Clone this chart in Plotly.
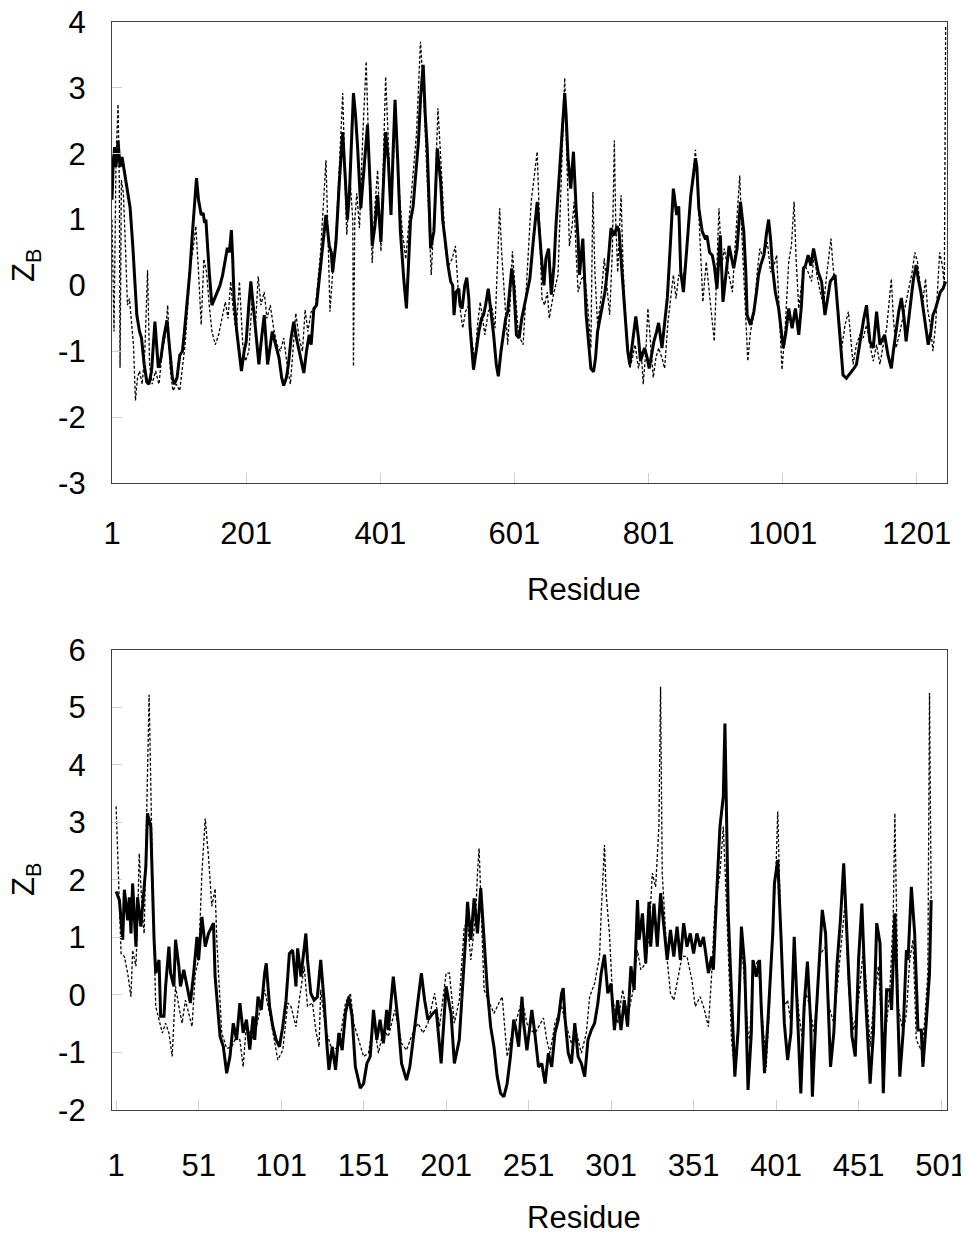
import plotly.graph_objects as go

# ---------------- Top panel (residues 1-1245) ----------------
top_solid_res = [1,3,5,7,10,13,16,20,24,28,32,35,38,42,45,49,53,56,60,65,68,70,74,78,83,87,91,94,98,102,106,109,113,117,121,124,127,130,134,137,139,141,143,146,150,154,158,162,166,170,173,176,179,181,183,187,191,194,198,201,205,208,213,217,220,224,228,233,236,240,245,250,254,257,261,264,268,272,276,280,284,287,291,295,298,
    302,306,310,315,320,325,328,330,335,340,345,349,352,355,357,361,364,367,372,377,382,386,389,393,397,402,406,409,413,417,420,423,427,431,436,440,443,446,450,454,458,461,465,468,471,474,476,481,484,486,491,494,498,502,506,509,511,514,518,520,523,527,530,533,535,540,544,548,552,555,558,562,566,570,574,577,581,585,588,591,594,597,600,604,608,
    612,616,620,624,629,635,641,645,648,652,656,660,663,670,676,678,681,685,689,693,696,698,700,703,708,712,715,719,722,725,729,732,736,740,745,750,754,757,760,763,767,770,773,777,782,786,789,795,799,802,806,809,813,816,821,825,829,834,838,843,846,849,853,858,864,867,871,873,876,881,886,888,892,896,899,903,908,912,
    917,921,928,933,938,940,943,946,948,953,958,962,965,968,973,977,980,983,986,990,995,999,1002,1006,1010,1015,1020,1025,1029,1032,1035,1039,1043,1047,1050,1054,1059,1064,1068,1072,1079,1082,1086,1091,1096,1100,1104,1108,1111,1114,1118,1122,1126,1131,1136,1141,1146,1150,1153,1158,1163,1166,1170,1174,1178,1182,1185,1189,1193,1196,1200,1203,1207,1212,1216,1218,1222,1225,1229,1232,1236,1240,1244]
top_solid_zb = [1.3,1.9,2.1,1.8,2.2,1.8,1.95,1.7,1.4,1.18,0.6,0.0,-0.45,-0.7,-0.8,-1.2,-1.47,-1.5,-1.3,-0.55,-1.0,-1.25,-1.1,-0.8,-0.53,-1.0,-1.4,-1.5,-1.4,-1.06,-1.0,-0.7,-0.3,0.2,0.81,1.2,1.63,1.3,1.07,1.1,0.95,1.0,0.66,0.2,-0.3,-0.2,-0.1,0.0,0.16,0.4,0.57,0.5,0.84,0.4,-0.2,-0.7,-1.1,-1.3,-1.0,-0.86,-0.3,0.06,-0.45,-0.9,-1.2,-0.8,-0.45,-1.2,-1.0,-0.7,-0.9,-1.1,-1.4,-1.52,-1.4,-1.2,-0.8,-0.55,-0.8,-1.0,-1.2,-1.33,-1.0,-0.75,-0.9,
    -0.35,-0.3,0.1,0.56,1.07,0.6,0.5,0.2,0.66,1.58,2.33,1.6,1.0,1.4,1.83,2.92,2.6,2.13,1.17,1.83,2.44,1.5,0.6,0.9,1.37,0.66,1.5,2.33,1.9,1.07,2.0,2.82,1.9,0.82,0.1,-0.35,0.3,0.97,1.2,1.68,2.2,2.84,3.35,2.6,2.08,1.2,0.56,0.82,1.5,2.08,1.58,1.0,0.66,0.3,0.06,0.0,-0.45,-0.1,-0.05,-0.3,-0.35,0.0,0.12,-0.2,-0.65,-1.28,-1.0,-0.7,-0.5,-0.45,-0.3,-0.05,-0.4,-0.75,-1.2,-1.38,-1.0,-0.7,-0.5,-0.4,0.0,0.26,0.0,-0.75,-0.8,
    -0.5,-0.3,-0.1,0.1,0.66,1.27,0.46,0.0,0.41,0.56,-0.14,0.3,0.92,2.08,2.92,2.6,1.93,1.47,2.03,1.17,0.7,0.16,0.4,0.71,-0.45,-0.9,-1.26,-1.31,-1.1,-0.7,-0.5,-0.3,-0.1,0.26,0.87,0.76,0.9,0.82,0.4,-0.05,-0.7,-1.0,-1.2,-0.9,-0.47,-0.8,-1.15,-0.95,-1.1,-1.26,-1.0,-0.85,-0.7,-0.57,-0.95,-0.6,-0.19,0.71,1.47,1.07,1.2,0.21,-0.1,0.56,1.37,1.6,1.93,1.8,1.17,0.82,0.7,0.76,0.5,0.46,0.3,-0.05,0.76,-0.25,
    0.2,0.6,0.26,0.56,1.27,1.1,0.82,0.2,-0.45,-0.6,-0.4,-0.1,0.16,0.3,0.46,0.8,1.0,0.7,0.26,-0.1,-0.35,-0.7,-0.95,-0.7,-0.35,-0.65,-0.35,-0.75,-0.3,0.26,0.3,0.46,0.3,0.56,0.4,0.2,0.06,-0.45,-0.2,0.06,0.16,-0.2,-0.75,-1.36,-1.41,-1.36,-1.31,-1.25,-1.2,-1.0,-0.75,-0.5,-0.3,-0.85,-0.95,-0.4,-0.9,-0.8,-0.75,-1.06,-1.26,-1.0,-0.7,-0.4,-0.19,-0.5,-0.85,-0.5,-0.1,0.1,0.31,0.1,-0.1,-0.45,-0.7,-0.9,-0.7,-0.45,-0.35,-0.25,-0.1,-0.05,0.06]

top_dash_res = [1,4,7,10,12,13,15,18,21,24,27,30,33,36,39,42,46,50,54,57,61,66,71,76,80,84,88,92,97,102,106,110,114,118,122,126,130,134,138,142,146,150,155,160,165,170,174,178,182,186,191,196,200,205,210,215,219,223,228,232,237,242,247,252,257,262,267,271,275,280,285,289,293,298,304,
    312,320,323,326,330,335,340,345,348,351,356,360,361,363,366,370,375,380,384,389,393,397,402,406,409,413,417,421,424,428,434,439,444,449,455,461,466,471,477,482,487,493,498,503,508,513,518,524,528,533,537,542,546,550,553,557,562,567,572,579,582,585,588,591,595,598,603,607,
    614,618,622,626,635,638,642,646,650,653,658,666,670,676,679,683,687,690,693,696,701,706,711,715,718,721,725,730,735,739,743,747,750,752,755,760,763,767,773,777,781,786,790,793,797,800,804,808,812,816,821,825,830,835,838,842,846,852,858,864,871,875,877,882,887,891,894,899,903,906,910,914,
    920,926,932,937,940,943,946,949,953,958,963,967,972,978,983,988,992,996,1000,1005,1010,1014,1018,1021,1025,1029,1034,1039,1044,1048,1052,1057,1062,1067,1073,1076,1079,1084,1089,1094,1099,1103,1106,1111,1116,1121,1126,1131,1136,1141,1146,1151,1156,1163,1166,1170,1176,1183,1188,1194,1198,1202,1206,1210,1214,1217,1221,1225,1229,1233,1235,1239,1242,1244]
top_dash_zb = [1.0,-0.7,1.9,2.75,1.5,-1.25,1.6,1.4,0.6,-0.3,-0.2,-0.6,-0.9,-1.75,-1.4,-1.3,-1.5,-1.0,0.23,-1.2,-1.5,-1.3,-1.5,-1.0,-0.8,-0.3,-1.3,-1.6,-1.5,-1.6,-1.2,-0.9,-0.3,0.3,0.56,0.9,0.2,-0.6,0.4,0.2,-0.3,-0.7,-0.9,-0.75,-0.5,-0.25,-0.5,0.06,-0.4,-0.7,0.06,-0.9,-1.15,-1.0,-0.2,-0.6,0.14,-0.3,-0.1,-0.5,-0.3,-0.65,-0.9,-1.0,-0.8,-1.2,-1.5,-0.9,-0.42,-0.8,-1.0,-0.37,-0.7,-0.4,-0.35,
    0.5,1.9,0.8,-0.4,0.2,0.8,1.8,2.92,1.8,0.77,1.6,1.0,-1.23,1.0,1.4,0.87,2.3,3.4,2.0,0.34,1.2,1.75,0.52,2.0,3.17,2.2,1.07,2.0,2.64,1.6,0.8,0.4,1.0,1.58,2.3,3.7,2.84,1.6,0.16,1.2,2.69,1.58,0.56,0.3,0.4,0.6,-0.2,-0.65,-0.4,-0.3,-0.8,-1.15,-0.6,-0.25,-0.5,-0.75,-0.4,-0.3,-0.65,1.17,0.5,0.06,-0.5,-0.9,-0.2,0.52,-0.2,-0.75,
    -0.9,-0.2,0.6,1.27,2.03,1.0,-0.2,-0.3,-0.1,-0.5,-0.2,0.16,1.5,3.15,2.0,0.6,0.9,1.27,0.5,-0.1,0.1,0.16,-0.4,-0.95,1.42,0.2,-0.6,-0.2,0.41,0.0,-0.45,0.5,2.2,1.0,0.2,1.37,0.3,-0.6,-1.26,-1.1,-0.9,-1.26,-1.0,-1.5,-1.0,-0.35,-0.9,-1.4,-1.1,-0.95,-1.1,-1.26,-0.55,-0.1,0.16,-0.2,0.16,0.06,0.5,1.37,2.06,1.3,0.87,-0.25,0.36,-0.1,-0.35,-0.85,0.2,1.17,0.3,0.56,
    0.2,-0.1,0.9,1.67,0.8,0.16,-0.5,-1.15,-0.7,-0.45,0.2,0.56,0.4,0.66,0.2,0.3,0.46,-0.5,-1.28,-0.6,0.36,0.6,1.27,0.4,-0.35,0.0,0.31,0.2,0.06,0.5,0.16,-0.1,-0.3,0.2,0.71,0.3,0.06,-0.4,-0.95,-0.6,-0.4,-0.8,-1.2,-0.9,-0.75,-0.8,-0.6,-0.9,-1.15,-0.9,-1.2,-0.9,-0.65,0.1,-0.5,-0.95,-0.7,-0.35,-0.1,0.2,0.5,0.36,0.0,-0.25,0.1,-0.35,-0.6,-1.0,-0.6,0.2,0.5,0.31,0.0,3.95]

top_xticks = [1, 201, 401, 601, 801, 1001, 1201]
top_yticks = [-3, -2, -1, 0, 1, 2, 3, 4]

# ---------------- Bottom panel (residues 1-495) ----------------
bot_solid_res = [1,3,5,6,8,9,10,11,13,14,16,17,19,20,22,24,25,27,28,30,31,33,34,36,37,39,40,42,44,46,48,50,51,53,55,57,60,61,64,66,68,70,72,74,76,78,80,82,84,85,87,89,91,92,94,96,98,100,102,104,106,108,110,111,113,114,116,117,119,121,123,125,
    127,129,130,132,134,136,138,140,142,144,146,149,151,153,155,157,159,161,163,165,166,169,172,174,177,179,181,183,186,188,190,193,195,198,201,204,206,209,211,213,214,216,218,220,222,224,226,228,230,232,234,236,238,240,242,243,245,247,
    248,250,253,255,257,259,261,263,265,267,269,271,272,273,275,277,279,281,283,285,287,289,291,293,295,297,299,301,303,305,307,309,311,313,315,317,318,320,322,324,325,327,329,331,333,335,337,339,341,343,345,347,349,351,353,355,357,359,360,362,363,365,367,369,370,
    372,374,376,378,380,382,384,386,387,389,391,392,394,396,399,400,402,404,406,408,410,412,414,416,418,420,422,423,425,427,429,431,434,436,438,440,442,445,447,449,451,453,455,458,460,462,464,466,468,470,471,473,476,478,480,481,483,485,487,489,490,492,494,495]
bot_solid_zb = [1.8,1.65,0.96,1.83,1.3,1.7,1.07,1.94,0.84,1.7,1.19,1.54,2.23,3.16,2.93,0.96,0.38,0.61,-0.37,-0.37,0.15,0.84,0.38,0.15,0.96,0.5,0.15,0.44,0.15,-0.14,0.38,1.01,0.61,1.36,0.84,1.07,1.25,0.32,-0.72,-0.9,-1.36,-1.07,-0.49,-0.78,-0.14,-0.66,-0.43,-0.95,-0.37,-0.78,-0.03,-0.26,0.38,0.55,-0.2,-0.55,-0.78,-0.9,-0.55,-0.09,0.72,0.78,0.15,0.81,0.32,0.61,1.07,0.61,0.03,-0.09,-0.03,0.61,
    -0.09,-0.96,-1.3,-0.9,-1.3,-0.66,-0.96,-0.32,-0.03,-0.37,-1.25,-1.62,-1.54,-1.19,-1.07,-0.26,-0.78,-0.43,-0.84,-0.26,-0.61,0.32,-0.49,-1.19,-1.48,-1.25,-0.78,-0.32,0.38,-0.09,-0.43,-0.32,-0.26,-1.19,0.15,-0.32,-1.19,-0.78,0.09,1.07,1.62,0.96,1.68,1.07,1.86,0.96,0.09,-0.55,-0.9,-1.42,-1.71,-1.77,-1.54,-1.07,-0.43,-0.55,-0.9,-0.03,
    -0.49,-0.96,-0.26,-0.72,-1.25,-1.19,-1.54,-1.01,-1.25,-0.66,-0.43,0.03,0.12,-0.37,-1.01,-1.19,-0.49,-1.07,-1.19,-1.42,-0.78,-0.61,-0.49,-0.14,0.38,0.7,0.03,0.2,-0.61,-0.09,-0.61,-0.09,-0.55,0.5,0.09,1.65,0.96,1.42,0.55,1.62,0.84,1.59,0.84,1.77,1.19,0.61,1.13,0.67,1.19,0.61,1.25,0.84,1.07,0.72,1.07,0.84,1.01,0.61,0.38,0.67,0.44,1.77,2.93,3.45,4.72,
    1.42,0.09,-1.42,-0.61,1.19,0.5,-1.65,-0.66,0.61,0.32,0.61,-0.2,-1.36,-0.49,1.07,1.94,2.35,1.01,-0.49,-1.13,-0.66,1.01,-0.49,-1.71,-0.2,0.58,-0.49,-1.77,-0.49,0.61,1.48,1.07,-1.25,-0.66,0.55,1.3,2.29,0.38,-0.72,-1.07,0.61,1.59,0.09,-1.54,-0.66,1.25,0.9,-1.71,0.09,0.09,-0.26,1.42,-1.42,-0.66,0.78,0.61,1.88,1.07,-0.61,-0.61,-1.25,-0.49,0.38,1.65]

bot_dash_res = [1,3,4,6,8,10,11,13,14,15,17,18,20,21,23,25,27,29,31,33,35,37,39,41,43,45,47,49,51,53,55,57,59,61,62,65,68,71,74,76,78,80,83,86,89,91,94,97,99,102,105,107,110,112,115,117,120,122,124,
    125,128,132,136,140,143,145,148,151,154,157,160,163,166,170,174,177,180,184,187,190,194,197,201,203,206,209,212,214,216,219,220,221,224,228,230,233,235,238,241,244,247,
    250,252,255,258,260,262,264,267,271,274,277,280,283,286,288,291,294,295,297,298,300,302,305,308,311,314,317,319,322,324,326,328,330,331,332,335,337,339,342,344,347,350,352,355,357,360,362,364,367,369,371,
    374,376,378,380,384,385,387,390,393,395,397,399,401,402,404,406,408,410,412,415,417,419,421,424,426,428,431,433,436,439,441,443,445,448,451,454,456,458,460,463,465,467,470,472,473,475,478,480,482,484,486,489,491,493,494,495]
bot_dash_zb = [3.28,1.65,0.72,0.67,0.38,-0.03,0.78,0.5,1.25,2.46,1.36,1.07,3.85,5.22,2.12,-0.2,-0.43,-0.66,-0.49,-0.66,-1.07,0.15,-0.2,-0.49,-0.09,-0.32,-0.55,0.38,0.61,2.12,3.07,2.4,1.54,1.85,0.96,-0.66,-0.93,-0.9,-0.72,-0.78,-1.25,-0.49,-0.78,-0.55,-0.14,0.09,-0.32,-0.78,-1.13,-0.96,-0.14,-0.2,-0.55,-0.09,0.5,-0.2,-0.14,-0.61,-0.9,
    0.09,-0.61,-0.96,-0.9,-0.14,0.03,-0.49,-0.78,-1.07,-1.01,-0.43,-1.01,-0.61,-0.72,-0.26,-0.84,-0.96,-0.72,-0.49,-0.66,-0.49,0.03,-0.55,0.38,0.38,-0.49,-0.09,1.19,1.25,0.61,1.42,2.12,2.55,0.09,-0.2,-0.32,-0.14,-0.03,-1.07,-0.66,-0.4,-0.09,
    -0.49,-0.61,-0.66,-0.49,-0.4,-0.78,-1.01,-0.49,-0.2,-0.55,-0.84,-0.66,-1.01,-0.66,-0.03,0.2,0.67,1.42,2.61,1.77,1.07,-0.09,-0.49,0.09,-0.37,0.03,0.78,0.44,0.55,1.07,2.12,1.88,2.93,5.36,2.12,0.61,0.03,-0.09,0.38,0.67,0.67,0.26,-0.2,-0.03,-0.2,-0.55,0.38,1.54,2.12,2.93,1.54,
    -0.78,-1.36,-0.49,0.96,-0.66,-0.78,0.38,0.61,-0.49,-1.25,-0.2,1.25,2.23,3.19,0.96,-0.2,-0.09,-0.49,0.61,-0.37,-0.78,0.03,-0.14,-0.66,0.03,0.72,0.84,-0.2,-0.49,0.38,1.07,1.65,0.09,-0.61,-0.09,0.84,0.03,-0.9,-0.2,0.5,-0.55,-0.78,0.09,1.36,3.16,-0.2,-0.66,-0.32,0.61,0.96,-0.78,-0.96,-0.49,0.38,5.25,1.65]

bot_xticks = [1, 51, 101, 151, 201, 251, 301, 351, 401, 451, 501]
bot_yticks = [-2, -1, 0, 1, 2, 3, 4, 5, 6]

FONT = "Arial, Liberation Sans, sans-serif"

fig = go.Figure()
fig.add_trace(go.Scatter(x=top_dash_res, y=top_dash_zb, mode="lines",
                         line=dict(color="black", width=1.3, dash="3px,2px"),
                         xaxis="x", yaxis="y", showlegend=False))
fig.add_trace(go.Scatter(x=top_solid_res, y=top_solid_zb, mode="lines",
                         line=dict(color="black", width=3),
                         xaxis="x", yaxis="y", showlegend=False))
fig.add_trace(go.Scatter(x=bot_dash_res, y=bot_dash_zb, mode="lines",
                         line=dict(color="black", width=1.3, dash="3px,2px"),
                         xaxis="x2", yaxis="y2", showlegend=False))
fig.add_trace(go.Scatter(x=bot_solid_res, y=bot_solid_zb, mode="lines",
                         line=dict(color="black", width=3),
                         xaxis="x2", yaxis="y2", showlegend=False))

axis_common = dict(showgrid=False, zeroline=False, showline=True, linecolor="#404040",
                   linewidth=1.2, mirror=True, ticks="inside", ticklen=10,
                   tickcolor="#d0d0d0", tickwidth=1, automargin=False,
                   ticklabeloverflow="allow",
                   tickfont=dict(family=FONT, size=31, color="black"))

def labels(vals):
    return [str(v) for v in vals]

# The page body adds an 8 px offset, so the figure is 8 px smaller and the
# left/top margins 8 px narrower to land the plot areas where the reference has them.
fig.update_layout(
    width=961, height=1227,
    paper_bgcolor="white", plot_bgcolor="white",
    margin=dict(l=104, r=22, t=14, b=125, autoexpand=False),
    xaxis=dict(axis_common, domain=[0, 1], range=[1, 1246], anchor="y",
               tickmode="array", tickvals=top_xticks,
               ticktext=labels(top_xticks), ticklabelstandoff=23),
    yaxis=dict(axis_common, domain=[0.5763, 1.0], range=[-3, 4], anchor="x",
               tickmode="array", tickvals=top_yticks,
               ticktext=labels(top_yticks), ticklabelstandoff=19),
    xaxis2=dict(axis_common, domain=[0, 1], range=[-1.5, 504.6], anchor="y2",
                tickmode="array", tickvals=bot_xticks,
                ticktext=labels(bot_xticks), ticklabelstandoff=28),
    yaxis2=dict(axis_common, domain=[0, 0.4228], range=[-2, 6], anchor="x2",
                tickmode="array", tickvals=bot_yticks,
                ticktext=labels(bot_yticks), ticklabelstandoff=19),
)

title_font = dict(family=FONT, size=31, color="black")
fig.add_annotation(text="Residue", xref="paper", yref="paper",
                   x=0.5653, y=(1110 - 590) / 1088, xanchor="center", yanchor="middle",
                   showarrow=False, font=title_font)
fig.add_annotation(text="Residue", xref="paper", yref="paper",
                   x=0.5653, y=(1110 - 1217) / 1088, xanchor="center", yanchor="middle",
                   showarrow=False, font=title_font)
fig.add_annotation(text="Z<sub>B</sub>", xref="paper", yref="paper",
                   x=(26 - 112) / 835, y=(1110 - 266) / 1088, xanchor="center", yanchor="middle",
                   textangle=-90, showarrow=False, font=title_font)
fig.add_annotation(text="Z<sub>B</sub>", xref="paper", yref="paper",
                   x=(26 - 112) / 835, y=(1110 - 880) / 1088, xanchor="center", yanchor="middle",
                   textangle=-90, showarrow=False, font=title_font)

fig.write_html("out.html")
